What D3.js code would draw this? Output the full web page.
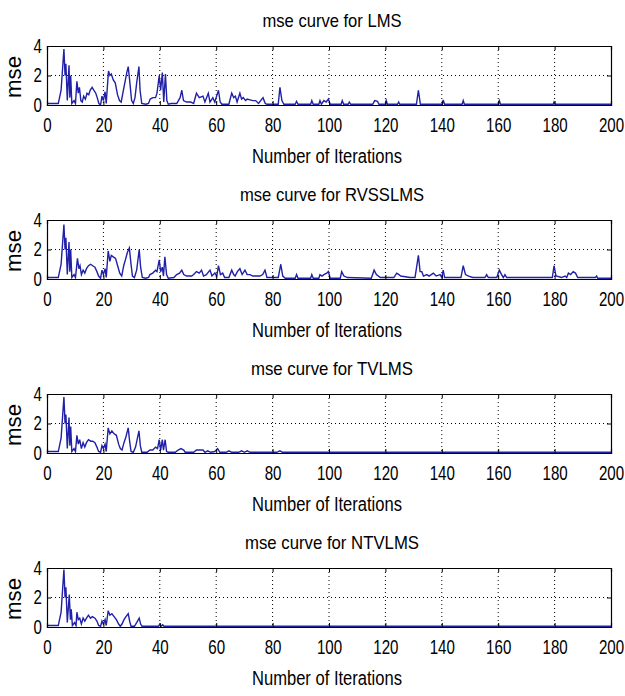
<!DOCTYPE html>
<html>
<head>
<meta charset="utf-8">
<script src="https://cdn.jsdelivr.net/npm/d3@7"></script>
<style>
  body { margin: 0; background: #fff; }
  svg text { font-family: "Liberation Sans", Arial, sans-serif; fill: #000; }
</style>
</head>
<body>
<svg id="chart" width="625" height="696"></svg>
<script>
// panel titles and axis ticks
const titles = ["mse curve for LMS", "mse curve for RVSSLMS", "mse curve for TVLMS", "mse curve for NTVLMS"];
const titleWidths = [139, 184, 162, 174];
const xTicks = [0, 20, 40, 60, 80, 100, 120, 140, 160, 180, 200];
const yTicks = [0, 2, 4];

// [iteration, mse]
const lms = [[0,0.1],[4,0.1],[5,1.0],[6,3.8],[6.4,2.0],[6.7,2.8],[7.2,0.3],[7.8,2.7],[8.1,0.5],[8.4,2.0],[8.8,0.1],[9.6,0.3],[10.1,0.1],[10.6,1.6],[11.1,0.8],[11.5,1.2],[12,0.3],[12.5,0.2],[13,0.6],[13.6,0.4],[14.2,0.8],[14.8,0.7],[15.3,1.0],[16,1.2],[16.6,1.0],[17.3,0.8],[17.8,0.5],[18.4,0.1],[19,0.0],[19.5,0.6],[20,0.3],[20.6,0.9],[21,0.1],[21.8,2.3],[22.3,2.0],[22.8,2.1],[23.5,1.7],[24.2,1.5],[25,0.7],[25.7,0.3],[26.3,0.2],[27,0.9],[27.7,1.6],[28.3,2.2],[28.8,2.6],[29.4,1.5],[30,0.3],[30.6,0.1],[31.2,0.5],[31.8,1.5],[32.6,2.6],[33,1.0],[33.6,0.1],[35,0.05],[36,0.1],[36.6,0.4],[37.5,0.5],[38.5,0.5],[39,0.8],[39.8,2.0],[40.3,1.0],[40.9,2.2],[41.4,0.2],[42,2.1],[42.5,0.3],[43,0.05],[44,0.1],[46,0.1],[47.2,0.5],[47.8,1.0],[48.4,0.3],[49.5,0.2],[51,0.2],[52,0.1],[53,0.8],[54,0.5],[55.3,0.6],[56,0.2],[57.2,0.8],[57.8,0.2],[58.8,0.5],[59.5,0.2],[60.8,1.0],[61.4,0.2],[62,0.05],[64.5,0.05],[65.5,0.8],[66.2,0.5],[66.8,0.6],[67.4,0.2],[68.4,0.8],[69,0.4],[69.6,0.5],[70.4,0.3],[71,0.4],[72,0.35],[73,0.3],[74,0.3],[75,0.1],[76.6,0.5],[77.4,0.1],[78,0.05],[82,0.05],[82.6,1.2],[83.3,0.3],[84,0.05],[88,0.05],[88.5,0.25],[89,0.05],[93.5,0.05],[93.9,0.3],[94.4,0.05],[96.4,0.05],[96.8,0.3],[97.3,0.05],[98.2,0.3],[99,0.2],[99.8,0.4],[100.4,0.05],[104.3,0.05],[104.7,0.3],[105.2,0.05],[106.8,0.05],[107.2,0.2],[107.7,0.05],[115.5,0.05],[116.2,0.3],[117.2,0.25],[117.7,0.05],[120,0.05],[120.3,0.3],[120.7,0.05],[124.3,0.05],[124.7,0.2],[125.1,0.05],[131,0.05],[131.7,1.0],[132.4,0.05],[140.2,0.05],[140.5,0.35],[141,0.05],[147.2,0.05],[147.6,0.3],[148,0.05],[160,0.05],[160.4,0.3],[160.8,0.05],[179.5,0.05],[179.8,0.2],[180.2,0.05],[200,0.05]];

const rvsslms = [[0,0.1],[4,0.1],[5,1.0],[6,3.7],[6.4,2.0],[6.7,2.8],[7.2,0.3],[7.8,2.5],[8.1,0.5],[8.4,2.0],[8.8,0.1],[9.6,0.3],[10.1,0.1],[10.8,1.4],[11.3,0.7],[11.7,0.9],[12.2,0.3],[12.8,0.6],[13.4,0.4],[14,0.7],[14.7,0.9],[15.5,1.0],[16.2,0.9],[17,0.8],[17.7,0.5],[18.3,0.2],[19,0.05],[19.5,0.6],[20,0.3],[20.6,0.7],[21,0.1],[21.7,1.9],[22.3,1.2],[22.8,1.6],[23.5,1.5],[24.3,1.4],[25.2,0.8],[25.8,0.4],[26.5,0.2],[27.2,0.9],[27.8,1.3],[28.5,1.8],[29.2,2.1],[29.8,1.0],[30.3,0.2],[31,0.1],[31.8,0.6],[32.7,2.0],[33.2,0.8],[33.8,0.1],[35,0.05],[36,0.1],[36.5,0.3],[37.5,0.4],[38.5,0.6],[39,0.5],[39.8,1.3],[40.3,0.5],[40.9,0.8],[41.3,0.2],[41.8,1.5],[42.4,0.3],[43,0.05],[45,0.1],[46,0.3],[47,0.4],[47.8,0.6],[48.5,0.3],[49.5,0.2],[51.3,0.2],[52,0.3],[53,0.5],[54,0.4],[54.8,0.6],[55.5,0.2],[56.5,0.3],[57.8,0.6],[58.5,0.2],[59.5,0.4],[60.2,0.2],[60.8,0.9],[61.5,0.3],[62.3,0.4],[63,0.1],[64.5,0.1],[65.5,0.6],[66.2,0.3],[66.7,0.2],[67.5,0.5],[68.4,0.7],[69.2,0.3],[70.2,0.6],[71,0.3],[72,0.3],[73,0.2],[74.5,0.2],[75.5,0.2],[76.5,0.3],[77.3,0.6],[78,0.1],[80,0.1],[82,0.1],[82.9,1.0],[83.6,0.2],[84.5,0.05],[88,0.05],[88.5,0.3],[89,0.05],[93.5,0.05],[93.9,0.3],[94.4,0.05],[96.4,0.05],[96.8,0.3],[97.5,0.2],[98.2,0.3],[99.2,0.4],[99.8,0.5],[100.4,0.05],[104,0.05],[104.5,0.5],[105.3,0.2],[106.5,0.1],[115,0.05],[116,0.6],[116.8,0.3],[118.2,0.1],[120,0.1],[123,0.1],[124,0.4],[124.8,0.3],[125.4,0.2],[128.7,0.1],[130.5,0.1],[131.7,1.6],[132.3,0.5],[132.9,0.5],[133.5,0.2],[134.7,0.3],[135.5,0.2],[137,0.4],[138,0.2],[139.4,0.3],[140,0.1],[140.5,0.6],[141,0.1],[146.8,0.1],[147.6,0.9],[148.4,0.3],[149.5,0.2],[151,0.1],[155.3,0.1],[155.9,0.3],[156.5,0.1],[159.5,0.1],[160.4,0.6],[161.2,0.3],[161.8,0.1],[162.4,0.3],[163,0.1],[174,0.1],[174.6,0.1],[179.2,0.1],[179.8,0.9],[180.5,0.2],[182.5,0.1],[183.7,0.2],[184.3,0.1],[184.9,0.4],[185.7,0.3],[186.6,0.5],[187.4,0.4],[188.2,0.1],[194.5,0.1],[194.9,0.2],[195.3,0.05],[200,0.05]];

const tvlms = [[0,0.1],[4,0.1],[5,1.0],[6,3.8],[6.4,2.0],[6.7,2.6],[7.2,0.3],[7.8,2.4],[8.1,0.5],[8.4,1.8],[8.8,0.1],[9.6,0.3],[10.1,0.1],[10.6,1.2],[11.1,0.6],[11.6,0.9],[12.2,0.3],[12.8,0.7],[13.4,0.4],[14,0.7],[14.7,0.9],[15.5,0.8],[16.2,0.8],[17,0.7],[17.7,0.4],[18.3,0.1],[19,0.05],[19.5,0.5],[20,0.3],[20.6,0.6],[21,0.1],[21.7,1.7],[22.3,1.3],[23,1.5],[23.8,1.3],[24.6,1.2],[25.4,0.6],[26,0.3],[26.6,0.2],[27.3,0.7],[28,1.1],[28.8,1.7],[29.3,0.8],[29.8,0.1],[30.6,0.05],[31.4,0.4],[32.6,1.5],[33.1,0.5],[33.6,0.05],[35.5,0.05],[36.5,0.2],[37.5,0.2],[38.5,0.4],[39.2,0.3],[39.8,0.9],[40.3,0.2],[40.9,0.9],[41.3,0.2],[41.9,0.9],[42.4,0.1],[43,0.05],[45.5,0.05],[46.5,0.2],[47.5,0.3],[48.5,0.2],[49,0.05],[52,0.05],[53,0.2],[54,0.2],[55.3,0.2],[56,0.05],[57,0.15],[58,0.05],[59.5,0.1],[60.5,0.3],[61.3,0.05],[63.5,0.05],[64.5,0.15],[65.5,0.05],[68,0.05],[69,0.15],[70,0.05],[71,0.15],[72,0.05],[81.5,0.05],[82.6,0.15],[83.5,0.05],[200,0.05]];

const ntvlms = [[0,0.1],[4,0.1],[5,1.0],[6,3.9],[6.4,2.0],[6.7,2.7],[7.2,0.3],[7.9,2.2],[8.3,0.5],[8.6,1.2],[9,0.1],[9.8,0.3],[10.3,0.1],[10.6,1.0],[11.1,0.5],[11.6,0.6],[12.2,0.2],[12.8,0.6],[13.4,0.4],[14,0.6],[14.7,0.8],[15.4,0.6],[16.1,0.7],[17,0.6],[17.7,0.4],[18.3,0.1],[19,0.05],[19.5,0.4],[20,0.2],[20.6,0.5],[21,0.1],[21.7,1.1],[22.3,0.8],[23,0.9],[23.8,0.7],[24.6,0.5],[25.4,0.2],[26,0.05],[26.6,0.2],[27.3,0.5],[28,0.7],[28.8,0.9],[29.3,0.4],[29.8,0.05],[31,0.05],[31.8,0.3],[32.7,0.6],[33.2,0.2],[33.7,0.05],[39.5,0.05],[40,0.2],[40.5,0.05],[41,0.15],[41.5,0.05],[200,0.05]];

const series = [lms, rvsslms, tvlms, ntvlms];

const svg = d3.select("#chart");
const left = 47, right = 611, plotH = 59;
const tops = [46, 220, 394, 568];
const squeeze = 0.72; // the screenshot font is very narrow

const x = d3.scaleLinear().domain([0, 200]).range([left, right]);

series.forEach((data, i) => {
  const top = tops[i];
  const y = d3.scaleLinear().domain([0, 4]).range([top + plotH, top]);
  const g = svg.append("g");

  // dotted grid
  g.selectAll(".vgrid")
    .data(xTicks.slice(1, -1))
    .enter().append("line")
    .attr("x1", d => x(d)).attr("x2", d => x(d))
    .attr("y1", top).attr("y2", top + plotH)
    .attr("stroke", "#000").attr("stroke-width", 1)
    .attr("stroke-dasharray", "1,3");

  g.selectAll(".hgrid")
    .data(yTicks.slice(1, -1))
    .enter().append("line")
    .attr("x1", left).attr("x2", right)
    .attr("y1", d => y(d)).attr("y2", d => y(d))
    .attr("stroke", "#000").attr("stroke-width", 1)
    .attr("stroke-dasharray", "1,3");

  // curve
  const line = d3.line().x(d => x(d[0])).y(d => y(d[1]));
  g.append("path")
    .datum(data)
    .attr("d", line)
    .attr("fill", "none")
    .attr("stroke", "#2020a8")
    .attr("stroke-width", 1.4);

  // axes, ticks pointing inward like matlab
  const xAxis = g.append("g")
    .attr("transform", `translate(0,${top + plotH})`)
    .call(d3.axisBottom(x).tickValues(xTicks).tickSize(-4).tickPadding(12));
  xAxis.selectAll("text")
    .style("font-size", "21px")
    .attr("transform", `scale(${squeeze},1)`);

  g.append("g")
    .attr("transform", `translate(0,${top})`)
    .call(d3.axisTop(x).tickValues(xTicks).tickSize(-4).tickFormat(""));

  const yAxis = g.append("g")
    .attr("transform", `translate(${left},0)`)
    .call(d3.axisLeft(y).tickValues(yTicks).tickFormat(d3.format("d")).tickSize(-4).tickPadding(7));
  yAxis.selectAll("text")
    .style("font-size", "21px")
    .attr("dy", "0.3em")
    .attr("transform", `scale(${squeeze},1)`);

  g.append("g")
    .attr("transform", `translate(${right},0)`)
    .call(d3.axisRight(y).tickValues(yTicks).tickSize(-4).tickFormat(""));

  g.selectAll(".domain").attr("stroke", "#000").attr("stroke-width", 1.2);
  g.selectAll(".tick line").attr("stroke", "#000");

  // labels
  svg.append("text")
    .attr("x", (left + right) / 2 + 3)
    .attr("y", top - 19)
    .attr("text-anchor", "middle")
    .attr("textLength", titleWidths[i])
    .attr("lengthAdjust", "spacingAndGlyphs")
    .style("font-size", "19px")
    .text(titles[i]);

  svg.append("text")
    .attr("x", (left + right) / 2 - 2)
    .attr("y", top + plotH + 58)
    .attr("text-anchor", "middle")
    .attr("textLength", 150)
    .attr("lengthAdjust", "spacingAndGlyphs")
    .style("font-size", "20px")
    .text("Number of Iterations");

  svg.append("text")
    .attr("transform", `translate(21,${top + 31}) rotate(-90)`)
    .attr("text-anchor", "middle")
    .attr("textLength", 42)
    .attr("lengthAdjust", "spacingAndGlyphs")
    .style("font-size", "22px")
    .text("mse");
});
</script>
</body>
</html>
